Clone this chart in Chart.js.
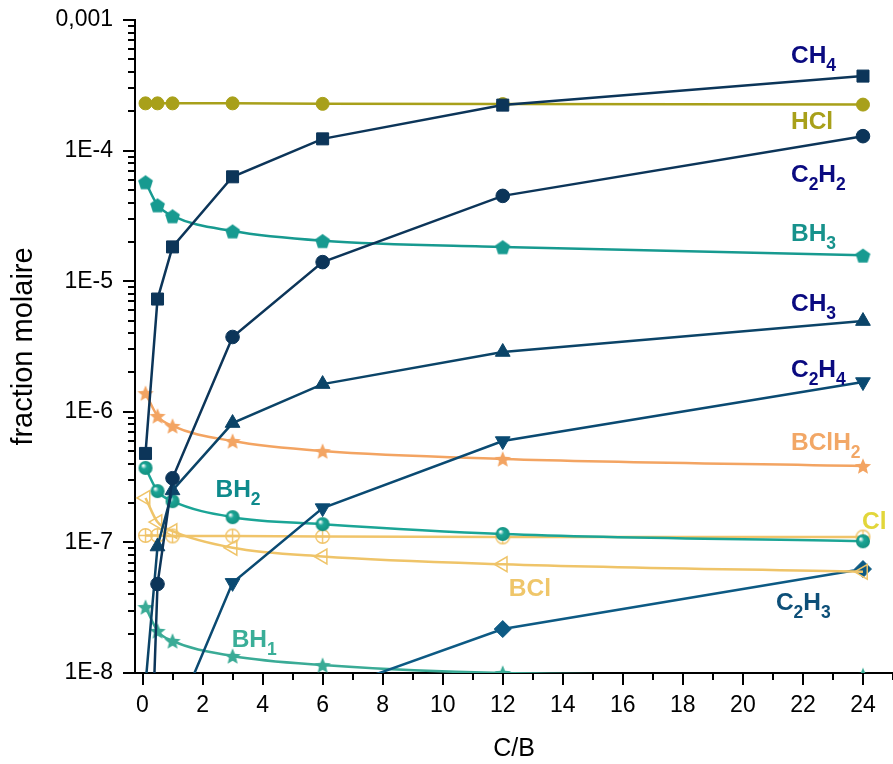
<!DOCTYPE html>
<html>
<head>
<meta charset="utf-8">
<script src="https://cdn.jsdelivr.net/npm/chart.js@4.4.1/dist/chart.umd.min.js"></script>
<style>
    html, body { margin: 0; padding: 0; background: #fff; }
    #wrap { width: 893px; height: 764px; }
</style>
</head>
<body>
<div id="wrap"><canvas id="chart"></canvas></div>
<script>
// C/B ratio (x) and mole fractions
const cbRatio = [0.1, 0.5, 1, 3, 6, 12, 24];
const ch4   = [4.8e-7, 7.3e-6, 1.83e-5, 6.3e-5, 1.23e-4, 2.23e-4, 3.72e-4];
const hcl   = [2.3e-4, 2.3e-4, 2.3e-4, 2.3e-4, 2.28e-4, 2.27e-4, 2.25e-4];
const c2h2  = [1e-10, 4.8e-8, 3.1e-7, 3.74e-6, 1.4e-5, 4.5e-5, 1.29e-4];
const bh3   = [5.75e-5, 3.83e-5, 3.16e-5, 2.42e-5, 2.04e-5, 1.83e-5, 1.58e-5];
const ch3   = [8.2e-9, 9.3e-8, 2.5e-7, 8.2e-7, 1.63e-6, 2.87e-6, 4.95e-6];
const c2h4  = [null, null, 4e-9, 4.9e-8, 1.83e-7, 5.97e-7, 1.69e-6];
const bclh2 = [1.39e-6, 9.3e-7, 7.8e-7, 5.97e-7, 5.0e-7, 4.36e-7, 3.85e-7];
const bh2   = [3.72e-7, 2.47e-7, 2.07e-7, 1.56e-7, 1.38e-7, 1.16e-7, 1.02e-7];
const cl    = [1.13e-7, 1.13e-7, 1.12e-7, 1.12e-7, 1.11e-7, 1.1e-7, 1.1e-7];
const bcl   = [2.19e-7, 1.43e-7, 1.22e-7, 9.1e-8, 7.8e-8, 6.8e-8, 5.95e-8];
const c2h3  = [null, null, null, null, 7e-9, 2.17e-8, 6.25e-8];
const bh1   = [3.2e-8, 2.1e-8, 1.76e-8, 1.35e-8, 1.15e-8, 1.0e-8, 9.6e-9];

const xTicks = [0, 2, 4, 6, 8, 10, 12, 14, 16, 18, 20, 22, 24];
const yTicks = [1e-8, 1e-7, 1e-6, 1e-5, 1e-4, 1e-3];

// species labels: segments alternate normal / subscript
const labelText  = [['CH', '4'], ['HCl'], ['C', '2', 'H', '2'], ['BH', '3'], ['CH', '3'], ['C', '2', 'H', '4'],
                    ['BClH', '2'], ['Cl'], ['BCl'], ['C', '2', 'H', '3'], ['BH', '2'], ['BH', '1']];
const labelX     = [21.6, 21.6, 21.6, 21.6, 21.6, 21.6, 21.6, 23.97, 12.2, 21.1, 2.43, 2.97];
const labelY     = [5.5e-4, 1.71e-4, 6.7e-5, 2.38e-5, 6.9e-6, 2.16e-6, 5.97e-7, 1.49e-7, 4.55e-8, 3.56e-8, 2.61e-7, 1.85e-8];
const labelColor = ['#0a0a80', '#a8a01a', '#0a0a80', '#17928c', '#0a0a80', '#0a0a80',
                    '#f2a766', '#e2d63a', '#efc66a', '#0d4f78', '#0e8a8c', '#3aae98'];

function toPoints(values) {
    return cbRatio.map((x, i) => ({x: x, y: values[i]}));
}

function makeMarker(size, draw) {
    let c = document.createElement('canvas');
    c.width = size;
    c.height = size;
    draw(c.getContext('2d'), size / 2);
    return c;
}

function pentagon(color) {
    return makeMarker(17, function (ctx, m) {
        ctx.beginPath();
        for (let k = 0; k < 5; k++) {
            let a = -Math.PI / 2 + k * 2 * Math.PI / 5;
            ctx.lineTo(m + 7.8 * Math.cos(a), m + 1 + 7.8 * Math.sin(a));
        }
        ctx.closePath();
        ctx.fillStyle = color;
        ctx.fill();
    });
}

function star(color, outer) {
    return makeMarker(Math.ceil(outer * 2 + 3), function (ctx, m) {
        ctx.beginPath();
        for (let k = 0; k < 10; k++) {
            let a = -Math.PI / 2 + k * Math.PI / 5;
            let r = k % 2 === 0 ? outer : outer * 0.45;
            ctx.lineTo(m + r * Math.cos(a), m + 0.8 + r * Math.sin(a));
        }
        ctx.closePath();
        ctx.fillStyle = color;
        ctx.fill();
    });
}

function sphere(color) {
    return makeMarker(16, function (ctx, m) {
        let g = ctx.createRadialGradient(m - 2.5, m - 2.5, 0.5, m, m, 7);
        g.addColorStop(0, '#ffffff');
        g.addColorStop(0.35, color);
        g.addColorStop(1, '#13907f');
        ctx.beginPath();
        ctx.arc(m, m, 7, 0, 2 * Math.PI);
        ctx.fillStyle = g;
        ctx.fill();
    });
}

function circlePlus(color) {
    return makeMarker(17, function (ctx, m) {
        ctx.strokeStyle = color;
        ctx.lineWidth = 1.4;
        ctx.beginPath();
        ctx.arc(m, m, 6.8, 0, 2 * Math.PI);
        ctx.stroke();
        ctx.beginPath();
        ctx.moveTo(m - 6.8, m);
        ctx.lineTo(m + 6.8, m);
        ctx.moveTo(m, m - 6.8);
        ctx.lineTo(m, m + 6.8);
        ctx.stroke();
    });
}

function series(data, color, style, radius, extra) {
    return Object.assign({
        data: toPoints(data),
        borderColor: color,
        backgroundColor: color,
        borderWidth: 2.5,
        pointStyle: style,
        pointRadius: radius,
        pointBorderWidth: 1,
        pointBorderColor: color,
        pointBackgroundColor: color,
        tension: 0
    }, extra || {});
}

const smooth = {cubicInterpolationMode: 'monotone'};

const datasets = [
    series(ch4, '#0c3559', 'rect', 8.5),
    series(hcl, '#a8a01a', 'circle', 6.5),
    series(c2h2, '#0c3559', 'circle', 6.8),
    series(bh3, '#179a90', pentagon('#179a90'), 7, smooth),
    series(ch3, '#0b4468', 'triangle', 8.5),
    series(c2h4, '#0a4a72', 'triangle', 8.5, {pointRotation: 180}),
    series(bclh2, '#f3a462', star('#f3a462', 8.5), 7, smooth),
    series(bh2, '#1ba596', sphere('#1ba596'), 7, smooth),
    series(cl, '#f0c46a', circlePlus('#f0c46a'), 7),
    series(bcl, '#efc469', 'triangle', 8.5, Object.assign({pointRotation: -90, pointBackgroundColor: 'rgba(255,255,255,0)', pointBorderWidth: 1.5}, smooth)),
    series(c2h3, '#0d5a84', 'rectRot', 8.5),
    series(bh1, '#3aab96', star('#3aab96', 8.5), 7, smooth)
];

const tickMarks = {
    id: 'tickMarks',
    afterDraw(chart) {
        let ctx = chart.ctx;
        let xs = chart.scales.x;
        let ys = chart.scales.y;
        let area = chart.chartArea;
        ctx.save();
        ctx.strokeStyle = '#000';
        ctx.lineWidth = 2;
        ctx.beginPath();
        for (let d = -8; d <= -3; d++) {
            let y = Math.round(ys.getPixelForValue(Math.pow(10, d)));
            ctx.moveTo(area.left - 12, y);
            ctx.lineTo(area.left, y);
            if (d < -3) {
                for (let m = 2; m <= 9; m++) {
                    let ym = Math.round(ys.getPixelForValue(m * Math.pow(10, d)));
                    ctx.moveTo(area.left - 7, ym);
                    ctx.lineTo(area.left, ym);
                }
            }
        }
        for (let v = 0; v <= 25; v++) {
            let x = Math.round(xs.getPixelForValue(v));
            ctx.moveTo(x, area.bottom);
            ctx.lineTo(x, area.bottom + (v % 2 === 0 ? 12 : 7));
        }
        ctx.stroke();
        ctx.restore();
    }
};

const speciesLabels = {
    id: 'speciesLabels',
    afterDraw(chart) {
        let ctx = chart.ctx;
        let xs = chart.scales.x;
        let ys = chart.scales.y;
        ctx.save();
        ctx.textBaseline = 'alphabetic';
        ctx.textAlign = 'left';
        for (let i = 0; i < labelText.length; i++) {
            let x = xs.getPixelForValue(labelX[i]);
            let base = ys.getPixelForValue(labelY[i]) + 8.8;
            ctx.fillStyle = labelColor[i];
            labelText[i].forEach(function (seg, k) {
                if (k % 2 === 0) {
                    ctx.font = 'bold 24.5px "Liberation Sans", Arial, sans-serif';
                    ctx.fillText(seg, x, base);
                } else {
                    ctx.font = 'bold 17.5px "Liberation Sans", Arial, sans-serif';
                    ctx.fillText(seg, x, base + 8);
                }
                x += ctx.measureText(seg).width;
            });
        }
        ctx.restore();
    }
};

new Chart(document.getElementById('chart'), {
    type: 'line',
    data: {datasets: datasets},
    options: {
        responsive: true,
        maintainAspectRatio: false,
        animation: false,
        layout: {autoPadding: false, padding: {top: 20, right: 0, left: 0, bottom: 0}},
        plugins: {
            legend: {display: false},
            tooltip: {enabled: false}
        },
        scales: {
            x: {
                type: 'linear',
                min: -0.25,
                max: 25,
                afterBuildTicks: function (scale) {
                    scale.ticks = xTicks.map(v => ({value: v}));
                },
                afterFit: function (scale) {
                    scale.height = 91;
                    scale.paddingLeft = 0;
                    scale.paddingRight = 0;
                },
                grid: {display: false, drawTicks: false},
                border: {display: true, color: '#000', width: 2},
                ticks: {
                    padding: 19,
                    color: '#000',
                    maxRotation: 0,
                    autoSkip: false,
                    font: {family: '"Liberation Sans", Arial', size: 23}
                },
                title: {
                    display: true,
                    text: 'C/B',
                    color: '#000',
                    padding: {top: 0, bottom: 0},
                    font: {family: '"Liberation Sans", Arial', size: 25}
                }
            },
            y: {
                type: 'logarithmic',
                min: 1e-8,
                max: 1e-3,
                afterBuildTicks: function (scale) {
                    scale.ticks = yTicks.map(v => ({value: v}));
                },
                afterFit: function (scale) {
                    scale.width = 135;
                    scale.paddingTop = 0;
                    scale.paddingBottom = 0;
                },
                grid: {display: false, drawTicks: false},
                border: {display: true, color: '#000', width: 2},
                ticks: {
                    padding: 22,
                    color: '#000',
                    font: {family: '"Liberation Sans", Arial', size: 23},
                    callback: function (value) {
                        let e = Math.round(Math.log10(value));
                        return e === -3 ? '0,001' : '1E' + e;
                    }
                },
                title: {
                    display: true,
                    text: 'fraction molaire',
                    color: '#000',
                    padding: {top: 7, bottom: 0},
                    font: {family: '"Liberation Sans", Arial', size: 29}
                }
            }
        }
    },
    plugins: [tickMarks, speciesLabels]
});
</script>
</body>
</html>
